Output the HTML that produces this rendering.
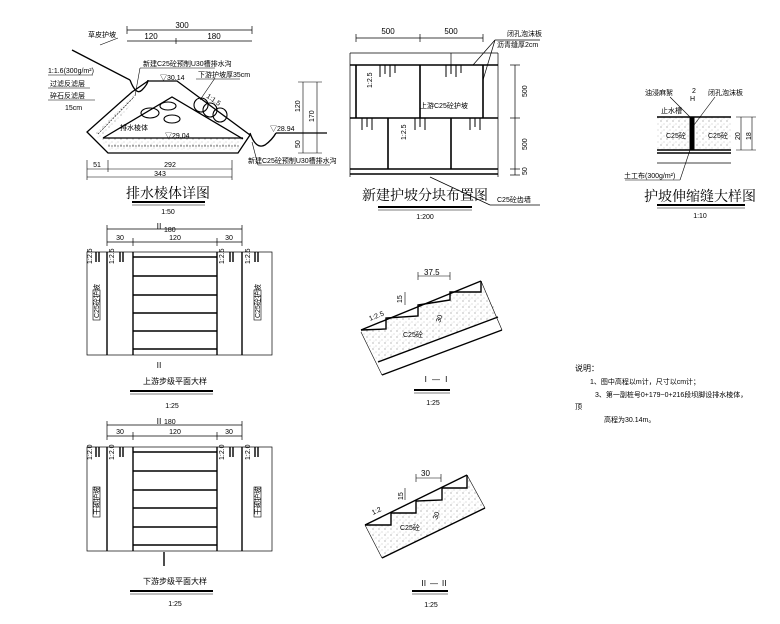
<!DOCTYPE html>
<html><head><meta charset="utf-8"><style>
body{margin:0;background:#fff}
svg{display:block}
svg text{font-family:"Liberation Sans","Noto Sans CJK SC",sans-serif;fill:#000;stroke:none}
.t{font-size:8px}
.s{font-size:7px}
svg text.ti{font-size:14px;font-family:"Liberation Serif","Noto Serif CJK SC",serif}
</style></head><body>
<svg width="780" height="624" viewBox="0 0 780 624" xmlns="http://www.w3.org/2000/svg" stroke="#000" fill="none">
<defs>
<pattern id="dots" width="6" height="6" patternUnits="userSpaceOnUse">
<circle cx="1" cy="1" r="0.5" fill="#555" stroke="none"/><circle cx="4" cy="4" r="0.4" fill="#777" stroke="none"/><circle cx="2" cy="5" r="0.3" fill="#777" stroke="none"/>
</pattern>
</defs>

<!-- ===== 排水棱体详图 ===== -->
<g stroke-width="0.7">
<line x1="127" y1="30" x2="252" y2="30"/><line x1="127" y1="26" x2="127" y2="34"/><line x1="252" y1="26" x2="252" y2="34"/>
<line x1="127" y1="41" x2="252" y2="41"/><line x1="176" y1="38" x2="176" y2="44"/>
</g>
<text class="t" x="182" y="28" text-anchor="middle">300</text>
<text class="t" x="151" y="39" text-anchor="middle">120</text>
<text class="t" x="214" y="39" text-anchor="middle">180</text>
<g stroke-width="1.3">
<line x1="72" y1="50" x2="130" y2="80"/>
<path d="M130 80 Q136 96 142 90 Q148 84 148 80"/>
<polygon points="148,81 177,81 250,135 238,153 108,153 87,132 132,92" />
<polyline points="103,138 172,97 243,139"/>
<line x1="103" y1="138" x2="243" y2="138"/>
<path d="M250 133 Q256 150 265 145 Q272 140 276 133"/>
<line x1="276" y1="133" x2="327" y2="133"/>
</g>
<polygon points="103,138 243,138 238,150 110,150 94,135 132,94 138,96" fill="url(#dots)" stroke="none"/>
<line x1="98" y1="134" x2="134" y2="97" stroke-width="0.6" stroke-dasharray="2 1"/>
<line x1="108" y1="146" x2="240" y2="146" stroke-width="0.6" stroke-dasharray="2 1"/>
<g stroke-width="1.1">
<ellipse cx="150" cy="113" rx="9" ry="5"/><ellipse cx="168" cy="106" rx="8" ry="4"/><ellipse cx="172" cy="119" rx="8" ry="4"/>
<circle cx="201" cy="105" r="7"/><circle cx="210" cy="110" r="7"/><circle cx="220" cy="115" r="7"/>
</g>
<g stroke-width="0.6">
<line x1="200" y1="100" x2="215" y2="78"/><line x1="196" y1="79" x2="240" y2="79"/>
<line x1="100" y1="45" x2="118" y2="38"/>
<line x1="303" y1="82" x2="303" y2="153"/><line x1="317" y1="82" x2="317" y2="153"/>
<line x1="298" y1="82" x2="322" y2="82"/><line x1="298" y1="153" x2="322" y2="153"/>
<line x1="87" y1="160" x2="87" y2="180"/><line x1="108" y1="160" x2="108" y2="172"/><line x1="232" y1="160" x2="232" y2="180"/>
<line x1="87" y1="169" x2="232" y2="169"/><line x1="87" y1="177" x2="232" y2="177"/>
<line x1="252" y1="142" x2="258" y2="165"/><line x1="258" y1="165" x2="330" y2="165"/>
<line x1="135" y1="96" x2="140" y2="68"/><line x1="140" y1="68" x2="215" y2="68"/>
<line x1="48" y1="75" x2="93" y2="75"/><line x1="48" y1="88" x2="90" y2="88"/><line x1="48" y1="100" x2="95" y2="100"/>
</g>
<text class="s" x="88" y="37">草皮护坡</text>
<text class="s" x="48" y="73">1:1.6(300g/m²)</text>
<text class="s" x="50" y="86">过滤反滤层</text>
<text class="s" x="50" y="98">碎石反滤层</text>
<text class="s" x="65" y="110">15cm</text>
<text class="s" x="143" y="66">新建C25砼预制U30槽排水沟</text>
<text class="s" x="198" y="77">下游护坡厚35cm</text>
<text class="s" x="160" y="80">▽30.14</text>
<text class="s" x="205" y="100" transform="rotate(35 210 100)">1:1.5</text>
<text class="s" x="120" y="130">排水棱体</text>
<text class="s" x="165" y="138">▽29.04</text>
<text class="s" x="270" y="131">▽28.94</text>
<text class="s" x="248" y="163">新建C25砼预制U30槽排水沟</text>
<text class="s" x="300" y="112" transform="rotate(-90 300 112)">120</text>
<text class="s" x="314" y="122" transform="rotate(-90 314 122)">170</text>
<text class="s" x="300" y="148" transform="rotate(-90 300 148)">50</text>
<text class="s" x="97" y="167" text-anchor="middle">51</text>
<text class="s" x="170" y="167" text-anchor="middle">292</text>
<text class="s" x="160" y="176" text-anchor="middle">343</text>
<text class="ti" x="168" y="198" text-anchor="middle">排水棱体详图</text>
<line x1="132" y1="202" x2="205" y2="202" stroke-width="2"/><line x1="132" y1="205" x2="205" y2="205" stroke-width="0.6"/>
<text class="s" x="168" y="214" text-anchor="middle">1:50</text>

<!-- ===== 新建护坡分块布置图 ===== -->
<g stroke-width="0.7">
<line x1="356" y1="38" x2="483" y2="38"/><line x1="356" y1="34" x2="356" y2="42"/><line x1="420" y1="34" x2="420" y2="42"/><line x1="483" y1="34" x2="483" y2="42"/>
<line x1="350" y1="53" x2="498" y2="53"/><line x1="350" y1="53" x2="350" y2="177"/><line x1="498" y1="53" x2="498" y2="177"/>
<line x1="510" y1="65" x2="520" y2="65"/><line x1="510" y1="118" x2="520" y2="118"/><line x1="510" y1="169" x2="520" y2="169"/><line x1="510" y1="175" x2="520" y2="175"/>
<line x1="515" y1="65" x2="515" y2="175"/>
<line x1="473" y1="65" x2="495" y2="40"/><line x1="483" y1="80" x2="495" y2="40"/><line x1="495" y1="40" x2="540" y2="40"/>
<line x1="430" y1="177" x2="490" y2="205"/><line x1="490" y1="205" x2="540" y2="205"/>
</g>
<g stroke-width="1.6">
<line x1="350" y1="65" x2="498" y2="65"/><line x1="350" y1="118" x2="498" y2="118"/>
<line x1="350" y1="169" x2="498" y2="169"/><line x1="350" y1="174" x2="498" y2="174"/>
<line x1="356" y1="65" x2="356" y2="118"/><line x1="420" y1="65" x2="420" y2="118"/><line x1="483" y1="65" x2="483" y2="118"/>
<line x1="388" y1="118" x2="388" y2="169"/><line x1="451" y1="118" x2="451" y2="169"/>
<line x1="451" y1="53" x2="451" y2="65" stroke-width="0.7"/>
</g>
<g stroke-width="1">
<path d="M380 65v12M385 65v9M390 65v12M395 65v8M446 65v12M451 65v9M456 65v12M461 65v8M362 118v12M367 118v9M372 118v12M415 118v12M420 118v9M425 118v12M470 118v12M475 118v9M480 118v12"/>
</g>
<text class="t" x="388" y="34" text-anchor="middle">500</text>
<text class="t" x="451" y="34" text-anchor="middle">500</text>
<text class="s" x="507" y="36">闭孔泡沫板</text>
<text class="s" x="497" y="47">沥青缝厚2cm</text>
<text class="s" x="420" y="108">上游C25砼护坡</text>
<text class="s" x="372" y="88" transform="rotate(-90 372 88)">1:2.5</text>
<text class="s" x="406" y="140" transform="rotate(-90 406 140)">1:2.5</text>
<text class="s" x="527" y="97" transform="rotate(-90 527 97)">500</text>
<text class="s" x="527" y="150" transform="rotate(-90 527 150)">500</text>
<text class="s" x="527" y="175" transform="rotate(-90 527 175)">50</text>
<text class="s" x="497" y="202">C25砼齿墙</text>
<text class="ti" x="425" y="200" text-anchor="middle">新建护坡分块布置图</text>
<line x1="378" y1="207" x2="472" y2="207" stroke-width="2"/><line x1="378" y1="210" x2="472" y2="210" stroke-width="0.6"/>
<text class="s" x="425" y="219" text-anchor="middle">1:200</text>

<!-- ===== 伸缩缝 ===== -->
<rect x="657" y="117" width="74" height="33" fill="url(#dots)" stroke="none"/>
<g stroke-width="1.4">
<line x1="657" y1="117" x2="731" y2="117"/><line x1="657" y1="150" x2="731" y2="150"/><line x1="657" y1="153" x2="731" y2="153"/>
</g>
<line x1="657" y1="163" x2="731" y2="163" stroke-width="0.7"/>
<rect x="690" y="117" width="4" height="33" fill="#000"/>
<g stroke-width="0.6">
<line x1="741" y1="117" x2="741" y2="150"/><line x1="752" y1="117" x2="752" y2="150"/>
<line x1="736" y1="117" x2="756" y2="117"/><line x1="736" y1="150" x2="756" y2="150"/>
<line x1="690" y1="117" x2="670" y2="97"/><line x1="694" y1="125" x2="715" y2="97"/>
<line x1="690" y1="150" x2="680" y2="180"/><line x1="625" y1="180" x2="680" y2="180"/>
</g>
<text class="s" x="645" y="95">油浸麻絮</text>
<text class="s" x="708" y="95">闭孔泡沫板</text>
<text class="s" x="692" y="93">2</text><text class="s" x="690" y="101">H</text>
<text class="s" x="661" y="113">止水槽</text>
<text class="s" x="666" y="138">C25砼</text>
<text class="s" x="708" y="138">C25砼</text>
<text class="s" x="624" y="178">土工布(300g/m²)</text>
<text class="s" x="740" y="140" transform="rotate(-90 740 140)">20</text>
<text class="s" x="751" y="140" transform="rotate(-90 751 140)">18</text>
<text class="ti" x="700" y="201" text-anchor="middle">护坡伸缩缝大样图</text>
<line x1="657" y1="205" x2="745" y2="205" stroke-width="2"/><line x1="657" y1="208" x2="745" y2="208" stroke-width="0.6"/>
<text class="s" x="700" y="218" text-anchor="middle">1:10</text>

<!-- ===== Plans ===== -->
<g>
<g stroke-width="0.7">
<line x1="107" y1="229" x2="242" y2="229"/><line x1="107" y1="242" x2="242" y2="242"/>
<line x1="107" y1="225" x2="107" y2="246"/><line x1="133" y1="238" x2="133" y2="246"/><line x1="217" y1="238" x2="217" y2="246"/><line x1="242" y1="225" x2="242" y2="246"/>
<rect x="87" y="252" width="185" height="103"/>
</g>
<g stroke-width="1.4">
<line x1="107" y1="252" x2="107" y2="355"/><line x1="133" y1="252" x2="133" y2="355"/><line x1="217" y1="252" x2="217" y2="355"/><line x1="242" y1="252" x2="242" y2="355"/>
<path d="M133 257H217M133 276H217M133 295H217M133 313H217M133 331H217M133 349H217"/>
<path d="M96 252v10M99 252v10M120 252v10M123 252v10M230 252v10M233 252v10M255 252v10M258 252v10"/>
</g>
<text class="s" x="120" y="240" text-anchor="middle">30</text>
<text class="s" x="175" y="240" text-anchor="middle">120</text>
<text class="s" x="229" y="240" text-anchor="middle">30</text>
<text class="t" x="155" y="229">Ⅱ</text><text class="s" x="164" y="232">180</text>
<text class="t" x="155" y="368">Ⅱ</text>
<text class="s" x="92" y="264" transform="rotate(-90 92 264)">1:2.5</text>
<text class="s" x="114" y="264" transform="rotate(-90 114 264)">1:2.5</text>
<text class="s" x="224" y="264" transform="rotate(-90 224 264)">1:2.5</text>
<text class="s" x="250" y="264" transform="rotate(-90 250 264)">1:2.5</text>
<rect x="93" y="290" width="7" height="30" stroke-width="0.6"/><rect x="254" y="290" width="7" height="30" stroke-width="0.6"/>
<text class="s" x="99" y="318" transform="rotate(-90 99 318)">C25砼护坡</text>
<text class="s" x="260" y="318" transform="rotate(-90 260 318)">C25砼护坡</text>
<text class="t" x="175" y="384" text-anchor="middle">上游步级平面大样</text>
<line x1="130" y1="391" x2="213" y2="391" stroke-width="2"/><line x1="130" y1="394" x2="213" y2="394" stroke-width="0.6"/>
<text class="s" x="172" y="408" text-anchor="middle">1:25</text>
</g>

<g>
<g stroke-width="0.7">
<line x1="107" y1="425" x2="242" y2="425"/><line x1="107" y1="436" x2="242" y2="436"/>
<line x1="107" y1="421" x2="107" y2="440"/><line x1="133" y1="432" x2="133" y2="440"/><line x1="217" y1="432" x2="217" y2="440"/><line x1="242" y1="421" x2="242" y2="440"/>
<rect x="87" y="447" width="185" height="104"/>
</g>
<g stroke-width="1.4">
<line x1="107" y1="447" x2="107" y2="551"/><line x1="133" y1="447" x2="133" y2="551"/><line x1="217" y1="447" x2="217" y2="551"/><line x1="242" y1="447" x2="242" y2="551"/>
<path d="M133 452H217M133 471H217M133 490H217M133 508H217M133 527H217M133 545H217"/>
<path d="M96 447v10M99 447v10M120 447v10M123 447v10M230 447v10M233 447v10M255 447v10M258 447v10"/>
<line x1="164" y1="552" x2="164" y2="566"/>
</g>
<text class="s" x="120" y="434" text-anchor="middle">30</text>
<text class="s" x="175" y="434" text-anchor="middle">120</text>
<text class="s" x="229" y="434" text-anchor="middle">30</text>
<text class="t" x="155" y="424">Ⅱ</text><text class="s" x="164" y="424">180</text>
<text class="s" x="92" y="460" transform="rotate(-90 92 460)">1:2.0</text>
<text class="s" x="114" y="460" transform="rotate(-90 114 460)">1:2.0</text>
<text class="s" x="224" y="460" transform="rotate(-90 224 460)">1:2.0</text>
<text class="s" x="250" y="460" transform="rotate(-90 250 460)">1:2.0</text>
<rect x="93" y="487" width="7" height="30" stroke-width="0.6"/><rect x="254" y="487" width="7" height="30" stroke-width="0.6"/>
<text class="s" x="99" y="515" transform="rotate(-90 99 515)">干砌护坡</text>
<text class="s" x="260" y="515" transform="rotate(-90 260 515)">干砌护坡</text>
<text class="t" x="175" y="584" text-anchor="middle">下游步级平面大样</text>
<line x1="130" y1="591" x2="213" y2="591" stroke-width="2"/><line x1="130" y1="594" x2="213" y2="594" stroke-width="0.6"/>
<text class="s" x="175" y="606" text-anchor="middle">1:25</text>
</g>

<!-- ===== I-I ===== -->
<polygon points="361,330 386,329 386,318 418,316 418,305 450,300 450,292 481,292 481,281 499,317 378,362 361,332" fill="url(#dots)" stroke="none"/>
<g stroke-width="1.4">
<line x1="361" y1="330" x2="481" y2="281"/>
<polyline points="361,330 386,329 386,318 418,316 418,305 450,300 450,292 481,292 481,281"/>
<line x1="378" y1="362" x2="498" y2="317"/>
<line x1="382" y1="375" x2="502" y2="330"/>
</g>
<g stroke-width="0.6">
<line x1="361" y1="332" x2="382" y2="375"/><line x1="481" y1="281" x2="502" y2="330"/>
<line x1="418" y1="276" x2="450" y2="276"/><line x1="418" y1="272" x2="418" y2="280"/><line x1="450" y1="272" x2="450" y2="280"/>
<line x1="405" y1="292" x2="405" y2="305"/>
</g>
<text class="t" x="424" y="275">37.5</text>
<text class="s" x="402" y="303" transform="rotate(-90 402 303)">15</text>
<text class="s" x="370" y="321" transform="rotate(-22 370 321)">1:2.5</text>
<text class="s" x="403" y="337">C25砼</text>
<text class="s" x="440" y="323" transform="rotate(-70 440 323)">30</text>
<text class="t" x="436" y="382" text-anchor="middle">Ⅰ — Ⅰ</text>
<line x1="414" y1="390" x2="450" y2="390" stroke-width="2"/><line x1="414" y1="393" x2="450" y2="393" stroke-width="0.6"/>
<text class="s" x="433" y="405" text-anchor="middle">1:25</text>

<!-- ===== II-II ===== -->
<polygon points="365,525 391,525 391,513 416,513 416,501 442,500 442,488 467,488 467,475 485,508 382,558 372,535" fill="url(#dots)" stroke="none"/>
<g stroke-width="1.4">
<line x1="365" y1="525" x2="467" y2="475"/>
<polyline points="365,525 391,525 391,513 416,513 416,501 442,500 442,488 467,488 467,475"/>
<line x1="382" y1="558" x2="485" y2="508"/>
</g>
<g stroke-width="0.6">
<line x1="365" y1="525" x2="382" y2="558"/><line x1="467" y1="475" x2="485" y2="508"/>
<line x1="416" y1="478" x2="441" y2="478"/><line x1="416" y1="474" x2="416" y2="482"/><line x1="441" y1="474" x2="441" y2="482"/>
<line x1="405" y1="488" x2="405" y2="500"/>
</g>
<text class="t" x="421" y="476">30</text>
<text class="s" x="403" y="500" transform="rotate(-90 403 500)">15</text>
<text class="s" x="373" y="515" transform="rotate(-25 373 515)">1:2</text>
<text class="s" x="400" y="530">C25砼</text>
<text class="s" x="437" y="520" transform="rotate(-70 437 520)">30</text>
<text class="t" x="434" y="586" text-anchor="middle">Ⅱ — Ⅱ</text>
<line x1="412" y1="591" x2="448" y2="591" stroke-width="2"/><line x1="412" y1="594" x2="448" y2="594" stroke-width="0.6"/>
<text class="s" x="431" y="607" text-anchor="middle">1:25</text>

<!-- ===== Notes ===== -->
<text class="t" x="575" y="371">说明：</text>
<text class="s" x="590" y="384">1、图中高程以m计，尺寸以cm计；</text>
<text class="s" x="595" y="397">3、第一副桩号0+179~0+216段坝脚设排水棱体，</text>
<text class="s" x="575" y="409">顶</text>
<text class="s" x="604" y="422">高程为30.14m。</text>
</svg>
</body></html>
